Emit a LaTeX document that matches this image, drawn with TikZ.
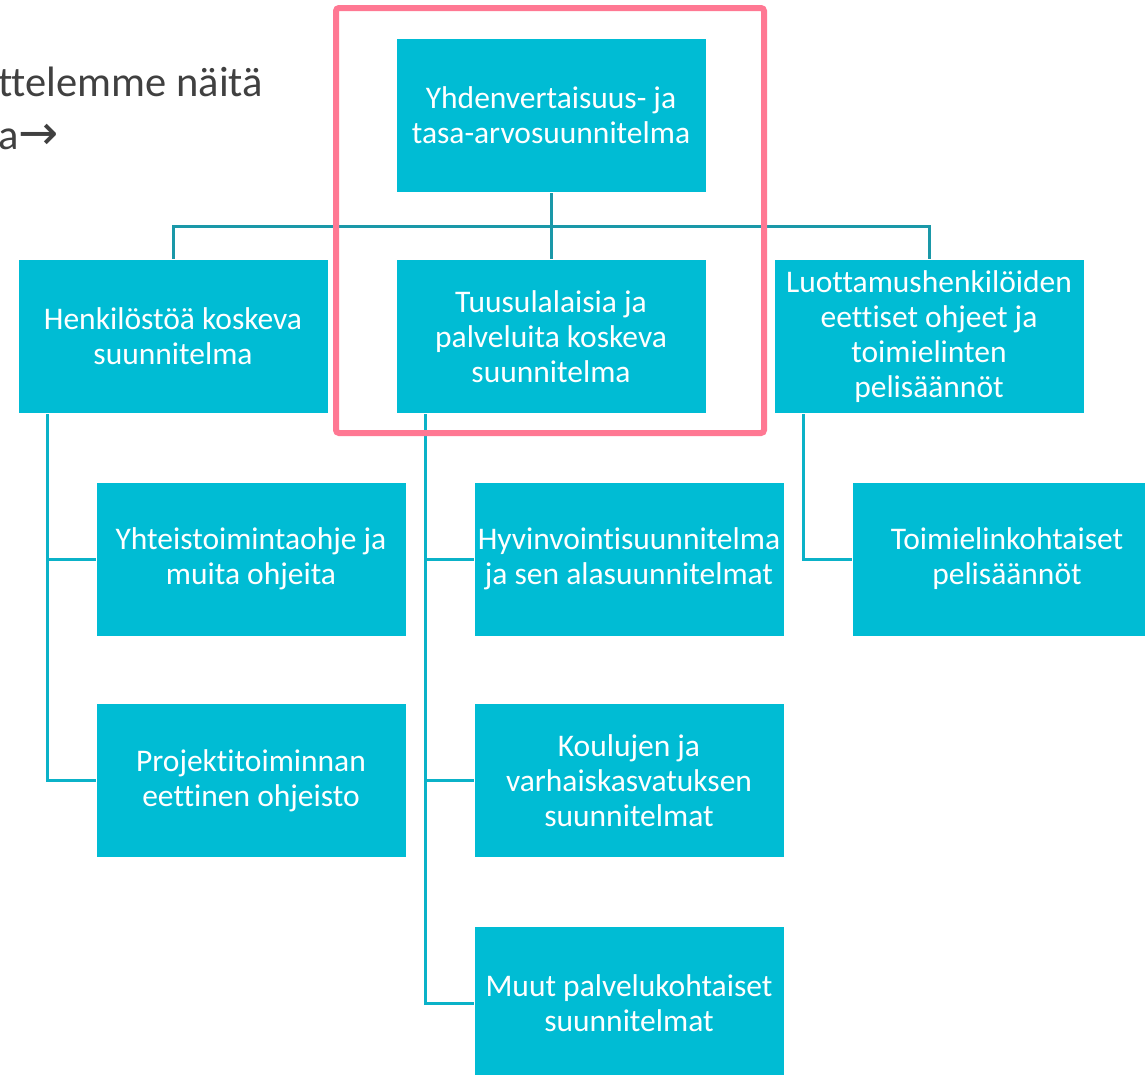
\documentclass[tikz,border=0pt]{standalone}
\usepackage{fontspec}
\setmainfont{Carlito}[Ligatures=NoCommon]
\newfontfamily\arrowfont{DejaVu Sans}
\usetikzlibrary{backgrounds}
\definecolor{boxc}{HTML}{00BCD4}
\definecolor{linetop}{HTML}{1A98A8}
\definecolor{linelow}{HTML}{0BB2C8}
\definecolor{framec}{HTML}{FF7893}
\definecolor{txtgray}{HTML}{404040}
\begin{document}
\begin{tikzpicture}[x=1pt,y=-1pt,
orgbox/.style={fill=boxc,draw=white,line width=1pt,text=white,align=center,inner sep=0pt,
  minimum width=310pt,minimum height=154pt,font=\fontsize{31.5}{35}\selectfont},
introtxt/.style={anchor=base west,inner sep=0pt,text=txtgray,font=\fontsize{42.5}{50}\selectfont},
conn/.style={line width=3pt,linetop},
subconn/.style={line width=3pt,linelow}]
\useasboundingbox(0,0)rectangle(1145,1074);
\clip(0,0)rectangle(1145,1074);
% intro text, cut at the left edge
\node[introtxt](intro1)at(-2,96){ttelemme näitä};
\node[introtxt](intro2)at(-2,149){a{\arrowfont\fontsize{48}{52}\selectfont →}};
% boxes
\node[orgbox](top)at(551,115){Yhdenvertaisuus- ja\\tasa-arvosuunnitelma};
\node[orgbox](henk)at(173,336.5){Henkilöstöä koskeva\\suunnitelma};
\node[orgbox](tuus)at(551,336.5){Tuusulalaisia ja\\palveluita koskeva\\suunnitelma};
\node[orgbox](luot)at(929,336.5){Luottamushenkilöiden\\eettiset ohjeet ja\\toimielinten\\pelisäännöt};
\node[orgbox](yht)at(251,559){Yhteistoimintaohje ja\\muita ohjeita};
\node[orgbox](proj)at(251,780.5){Projektitoiminnan\\eettinen ohjeisto};
\node[orgbox](hyv)at(629,559){Hyvinvointisuunnitelma\\ja sen alasuunnitelmat};
\node[orgbox](koul)at(629,780.5){Koulujen ja\\varhaiskasvatuksen\\suunnitelmat};
\node[orgbox](muut)at(629,1003){Muut palvelukohtaiset\\suunnitelmat};
\node[orgbox](toim)at(1007,559){Toimielinkohtaiset\\pelisäännöt};
\coordinate(bus)at(551,226);
\coordinate(hl)at([xshift=30pt]henk.south west);
\coordinate(tl)at([xshift=30pt]tuus.south west);
\coordinate(ll)at([xshift=30pt]luot.south west);
\begin{scope}[on background layer]
\draw[conn](top.south)--(tuus.north);
\draw[conn](henk.north)|-(bus)-|(luot.north);
\draw[subconn](hl)|-(yht.west) (hl)|-(proj.west);
\draw[subconn](tl)|-(hyv.west) (tl)|-(koul.west) (tl)|-(muut.west);
\draw[subconn](ll)|-(toim.west);
\end{scope}
% highlight frame
\draw[framec,line width=6pt,rounded corners=3pt](336,8)rectangle(764,433);
\end{tikzpicture}
\end{document}
